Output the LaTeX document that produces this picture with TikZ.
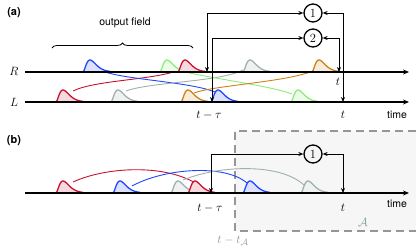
\documentclass[tikz,border=0pt]{standalone}
\usepackage{fontspec}
\setsansfont{TeX Gyre Heros}
\usetikzlibrary{arrows.meta,decorations.pathreplacing}
\definecolor{cred}{RGB}{200,16,46}
\definecolor{cblue}{RGB}{30,70,255}
\definecolor{cgreen}{RGB}{140,235,120}
\definecolor{cgrey}{RGB}{160,175,175}
\definecolor{corange}{RGB}{205,130,20}
\definecolor{boxfill}{RGB}{246,246,246}
\definecolor{boxline}{RGB}{150,150,150}
\definecolor{alab}{RGB}{140,160,170}
\newcommand\mypulse[3]{%
 \fill[#3!16] plot[domain=0:27,samples=40] ({#1-7+\x},{#2-12*(\x/7)*(\x/7)*exp(2*(1-\x/7))}) -- cycle;
 \draw[#3,pline] plot[domain=0:27,samples=40] ({#1-7+\x},{#2-12*(\x/7)*(\x/7)*exp(2*(1-\x/7))});}
\begin{document}
\begin{tikzpicture}[x=1pt,y=-1pt,
 axis/.style={line width=1.6pt,-{Stealth[length=6pt,width=5pt]}},
 conn/.style={line width=0.9pt,{Stealth[length=5pt,width=4pt]}-{Stealth[length=5pt,width=4pt]}},
 numc/.style={circle,draw,line width=1.3pt,minimum size=18pt,inner sep=0pt,font=\fontsize{12.5}{14}\selectfont},
 mlab/.style={inner sep=0pt,font=\fontsize{13}{15}\selectfont},
 slab/.style={inner sep=0pt,font=\sffamily\fontsize{10.5}{12}\selectfont},
 plab/.style={inner sep=0pt,font=\sffamily\bfseries\fontsize{11}{13}\selectfont},
 wire/.style={line width=0.9pt},
 pline/.style={line width=1.3pt,line join=round}]
\useasboundingbox (0,0) rectangle (416,249);
% ---------- panel (a)
\node[plab] (pa) at (14,13) {(a)};
\node[slab] (of) at (125,23) {output field};
\draw[line width=0.8pt,decorate,decoration={brace,amplitude=5pt}] (52,48) -- (193,48);
% curves
\draw[cred,wire] (73,91) .. controls (95,80) and (155,80) .. (179,70);
\draw[cblue,wire] (105,72) .. controls (130,80) and (190,82) .. (215,92);
\draw[cgrey,wire] (126,91) .. controls (150,82) and (220,82) .. (243,70);
\draw[cgreen,wire] (172,68) .. controls (190,76) and (265,84) .. (292,94);
\draw[corange,wire] (194,93) .. controls (215,85) and (290,82) .. (315,70);
% pulses R
\mypulse{90}{72}{cblue}
\mypulse{167}{72}{cgreen}
\mypulse{185}{72}{cred}
\mypulse{250}{72}{cgrey}
\mypulse{319}{72}{corange}
% pulses L
\mypulse{63}{102}{cred}
\mypulse{118}{102}{cgrey}
\mypulse{188}{102}{corange}
\mypulse{218}{102}{cblue}
\mypulse{298}{102}{cgreen}
% axes
\coordinate (R0) at (25,72); \coordinate (R1) at (409,72);
\coordinate (L0) at (25,102); \coordinate (L1) at (409,102);
\draw[axis] (R0) -- (R1);
\draw[axis] (L0) -- (L1);
\node[mlab] (labR) at (14,71) {$R$};
\node[mlab] (labL) at (14,102) {$L$};
\node[mlab] (lta) at (209,115) {$t-\tau$};
\node[mlab] (lt1) at (343,115) {$t$};
\node[mlab] (lt2) at (338,82) {$t$};
\node[slab] (tma) at (397,115) {time};
% correlators
\node[numc] (c1) at (313,13) {1};
\node[numc] (c2) at (313,38) {2};
\coordinate (p1) at (207,72); \coordinate (p2) at (343,102);
\coordinate (p3) at (212,102); \coordinate (p4) at (339,72);
\draw[conn] (p1) |- (c1.west);
\draw[conn] (p2) |- (c1.east);
\draw[conn] (p3) |- (c2.west);
\draw[conn] (p4) |- (c2.east);
% ---------- panel (b)
\fill[boxfill] (235,131) rectangle (416,231);
\draw[boxline,line width=1.1pt,dash pattern=on 8pt off 5pt] (416,131) -- (235,131) -- (235,231) -- (416,231);
\node[plab] (pb) at (14,141) {(b)};
\draw[cred,wire] (73,182) .. controls (110,165) and (180,163) .. (208,193);
\draw[cblue,wire] (132,186) .. controls (165,168) and (225,164) .. (247,183);
\draw[cgrey,wire] (183,180) .. controls (220,165) and (280,163) .. (304,185);
\mypulse{63}{193}{cred}
\mypulse{120}{193}{cblue}
\mypulse{178}{193}{cgrey}
\mypulse{195}{193}{cred}
\mypulse{250}{193}{cblue}
\mypulse{308}{193}{cgrey}
\coordinate (B0) at (25,193); \coordinate (B1) at (409,193);
\draw[axis] (B0) -- (B1);
\node[numc] (c3) at (313,154) {1};
\coordinate (q1) at (211,193); \coordinate (q2) at (343,193);
\draw[conn] (q1) |- (c3.west);
\draw[conn] (q2) |- (c3.east);
\node[mlab] (ltb) at (210,208) {$t-\tau$};
\node[mlab] (lt3) at (343,208) {$t$};
\node[slab] (tmb) at (397,204) {time};
\node[mlab,text=alab] (lA) at (363,222) {$\mathcal{A}$};
\node[mlab,text=boxline] (ltA) at (233,241) {$t-t_{\mathcal{A}}$};
\end{tikzpicture}
\end{document}
